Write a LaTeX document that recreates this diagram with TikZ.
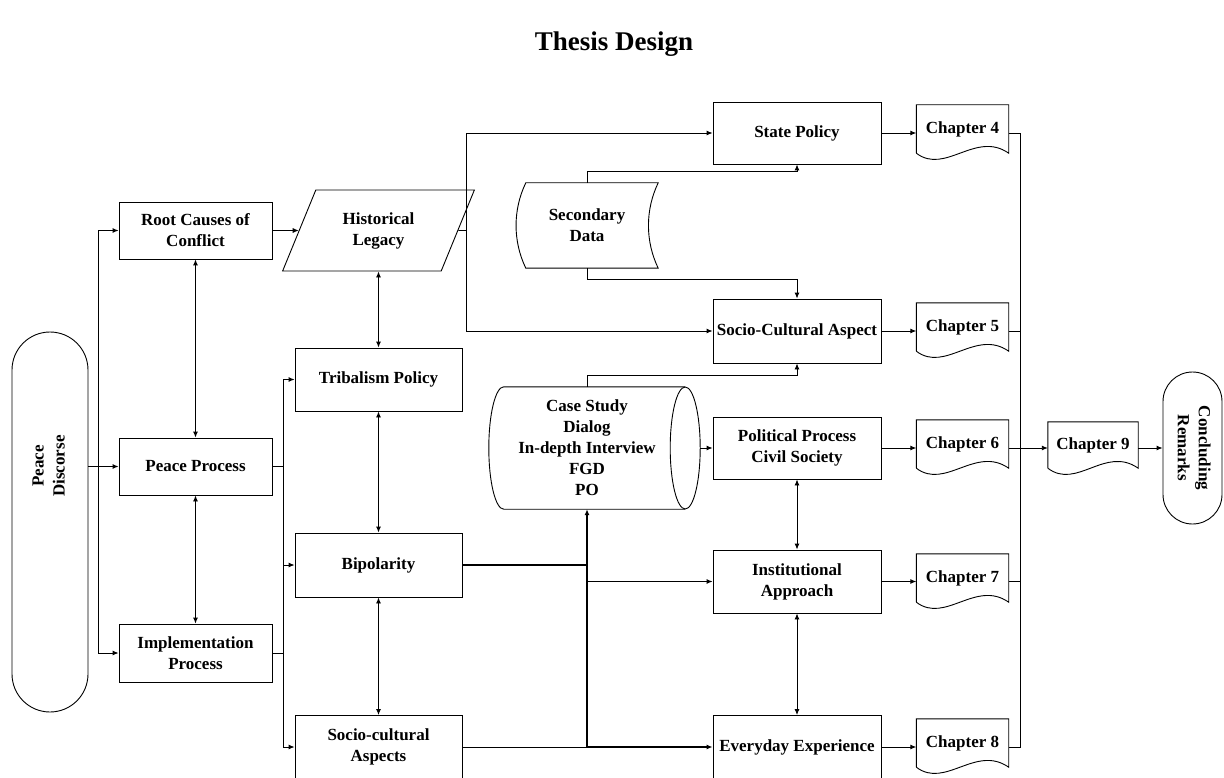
\documentclass[tikz,border=0pt]{standalone}
\usepackage{fontspec}
\setmainfont{Liberation Serif}
\usepackage{graphicx}
\usetikzlibrary{arrows.meta,shapes.geometric}

\tikzset{
  box/.style={draw, line width=0.9pt, inner sep=2pt, align=center,
    font=\fontsize{17}{21}\selectfont\bfseries},
  chap/.style={inner sep=2pt, minimum width=92pt, minimum height=48pt,
    font=\fontsize{17}{21}\selectfont\bfseries},
  line/.style={line width=0.9pt},
  arr/.style={line, -{Latex[length=6pt,width=5pt]}},
  darr/.style={line, {Latex[length=6pt,width=5pt]}-{Latex[length=6pt,width=5pt]}},
  thickarr/.style={arr, line width=1.8pt},
}

% outline of a chapter (document shape)
\newcommand{\chapout}[1]{%
  \draw[line] (#1.south west) -- (#1.north west) -- (#1.north east) -- (#1.south east)
    .. controls ([xshift=-33pt,yshift=23pt]#1.south east) and ([xshift=29pt,yshift=-22pt]#1.south west) .. (#1.south west);}

\begin{document}
\begin{tikzpicture}[x=1pt,y=-1pt]

    \useasboundingbox (0,0) rectangle (1224,778);

    \node[font=\fontsize{27}{32}\selectfont\bfseries] (title) at (614,44) {Thesis Design};

    % start
    \node[box, rounded corners=38pt, minimum width=76pt, minimum height=380pt] (pd) at (50,522)
      {\raisebox{112pt}{\rotatebox{90}{\begin{tabular}{@{}c@{}}Peace\\Discorse\end{tabular}}}};

    % first column
    \node[box, minimum width=153pt, minimum height=57pt] (root) at (195.5,230.5) {Root Causes of\\Conflict};
    \node[box, minimum width=153pt, minimum height=57pt] (pp) at (195.5,466.5) {Peace Process};
    \node[box, minimum width=153pt, minimum height=58pt] (ip) at (195.5,653) {Implementation\\Process};

    % second column
    \node[box, trapezium, trapezium left angle=63.7, trapezium right angle=116.3,
      trapezium stretches=true, minimum width=192pt, minimum height=81pt] (hl) at (378.5,230.5) {Historical\\Legacy};
    \node[box, minimum width=167pt, minimum height=63pt] (tp) at (378.5,379.5) {Tribalism Policy};
    \node[box, minimum width=167pt, minimum height=64pt] (bp) at (378.5,565) {Bipolarity};
    \node[box, minimum width=167pt, minimum height=63pt] (sca) at (378.5,747) {Socio-cultural\\Aspects};

    % secondary data (stored data)
    \node[inner sep=2pt, align=center, minimum width=132pt, minimum height=85pt,
      font=\fontsize{17}{21}\selectfont\bfseries] (sd) at (587,225.5) {Secondary\\Data};
    \draw[line] ([xshift=5pt]sd.north west) -- ([xshift=5pt]sd.north east)
      .. controls ([xshift=-8pt,yshift=-27pt]sd.north east) and ([xshift=-8pt,yshift=27pt]sd.south east) .. ([xshift=5pt]sd.south east)
      -- ([xshift=5pt]sd.south west)
      .. controls ([xshift=-8pt,yshift=27pt]sd.south west) and ([xshift=-8pt,yshift=-27pt]sd.north west) .. cycle;

    % field data (cylinder)
    \node[inner sep=2pt, align=center, minimum width=226pt, minimum height=122pt,
      font=\fontsize{17}{21}\selectfont\bfseries] (cs) at (587,448) {Case Study\\Dialog\\In-depth Interview\\FGD\\PO};
    \draw[line] ([xshift=-15pt]cs.north east) -- ([xshift=30pt]cs.north west)
      .. controls ([xshift=21.7pt]cs.north west) and ([xshift=15pt,yshift=-27.3pt]cs.north west) .. ([xshift=15pt]cs.west)
      .. controls ([xshift=15pt,yshift=27.3pt]cs.south west) and ([xshift=21.7pt]cs.south west) .. ([xshift=30pt]cs.south west)
      -- ([xshift=-15pt]cs.south east);
    \draw[line] ([xshift=-15pt]cs.east) ellipse [x radius=15pt, y radius=61pt];

    % third column
    \node[box, minimum width=168pt, minimum height=62pt] (sp) at (797,133) {State Policy};
    \node[box, minimum width=168pt, minimum height=64pt] (sc) at (797,331) {Socio-Cultural Aspect};
    \node[box, minimum width=168pt, minimum height=62pt] (pc) at (797,448) {Political Process\\Civil Society};
    \node[box, minimum width=168pt, minimum height=63pt] (ia) at (797,581.5) {Institutional\\Approach};
    \node[box, minimum width=168pt, minimum height=63pt] (ee) at (797,747) {Everyday Experience};

    % chapters
    \node[chap] (c4) at (962.5,129) {Chapter 4};
    \node[chap] (c5) at (962.5,327) {Chapter 5};
    \node[chap] (c6) at (962.5,444) {Chapter 6};
    \node[chap] (c7) at (962.5,578) {Chapter 7};
    \node[chap] (c8) at (962.5,743) {Chapter 8};
    \node[chap, minimum width=90pt, minimum height=46pt] (c9) at (1093,445) {Chapter 9};
    \foreach \c in {c4,c5,c6,c7,c8,c9} {\chapout{\c}}

    % end
    \node[box, rounded corners=29.5pt, minimum width=59pt, minimum height=152pt] (cr) at (1192.5,448)
      {\rotatebox{-90}{\begin{tabular}{@{}c@{}}Concluding\\Remarks\end{tabular}}};

    % junctions
    \coordinate (lb) at (98,466.5);
    \coordinate (mb) at (283,466.5);
    \coordinate (hj) at (466,230.5);
    \coordinate (jn) at (1020,448);

    % left part
    \draw[arr] (pd.east |- pp.west) -- (pp.west);
    \draw[arr] (lb) |- (root.west);
    \draw[arr] (lb) |- (ip.west);
    \draw[darr] (root) -- (pp);
    \draw[darr] (pp) -- (ip);
    \draw[arr] (root) -- (hl);
    \draw[line] (pp.east) -- (mb);
    \draw[line] (ip.east) -- (ip.east -| mb);
    \draw[arr] (mb) |- (tp.west);
    \draw[arr] (mb) |- (bp.west);
    \draw[arr] (mb) |- (sca.west);
    \draw[darr] (hl) -- (tp);
    \draw[darr] (tp) -- (bp);
    \draw[darr] (bp) -- (sca);

    % to the themes
    \draw[line] (hl.east) -- (hj);
    \draw[arr] (hj) |- (sp.west);
    \draw[arr] (hj) |- (sc.west);
    \draw[arr] (sd.north) -- ++(0,-11) -| (sp.south);
    \draw[arr] (sd.south) -- ++(0,11) -| (sc.north);
    \draw[arr] (cs.north) -- ++(0,-11) -| (sc.south);
    \draw[arr] (cs.east) -- (pc.west);
    \draw[line, line width=1.8pt] (bp.east) -- (bp.east -| cs.south);
    \draw[line] (sca.east) -- (sca.east -| cs.south);
    \draw[thickarr] (cs.south |- ee.west) -- (cs.south);
    \draw[thickarr] (cs.south |- ee.west) -- (ee.west);
    \draw[arr] (cs.south |- ia.west) -- (ia.west);
    \draw[darr] (pc) -- (ia);
    \draw[darr] (ia) -- (ee);

    % chapters
    \draw[arr] (sp.east) -- (sp.east -| c4.west);
    \draw[arr] (sc.east) -- (sc.east -| c5.west);
    \draw[arr] (pc.east) -- (pc.east -| c6.west);
    \draw[arr] (ia.east) -- (ia.east -| c7.west);
    \draw[arr] (ee.east) -- (ee.east -| c8.west);
    \draw[line] (c4.east |- sp) -| (jn);
    \draw[line] (c5.east |- sc) -| (jn);
    \draw[line] (c6.east |- pc) -- (jn);
    \draw[line] (c7.east |- ia) -| (jn);
    \draw[line] (c8.east |- ee) -| (jn);
    \draw[arr] (jn) -- (jn -| c9.west);
    \draw[arr] (c9.east |- cr) -- (cr.west);

\end{tikzpicture}
\end{document}
